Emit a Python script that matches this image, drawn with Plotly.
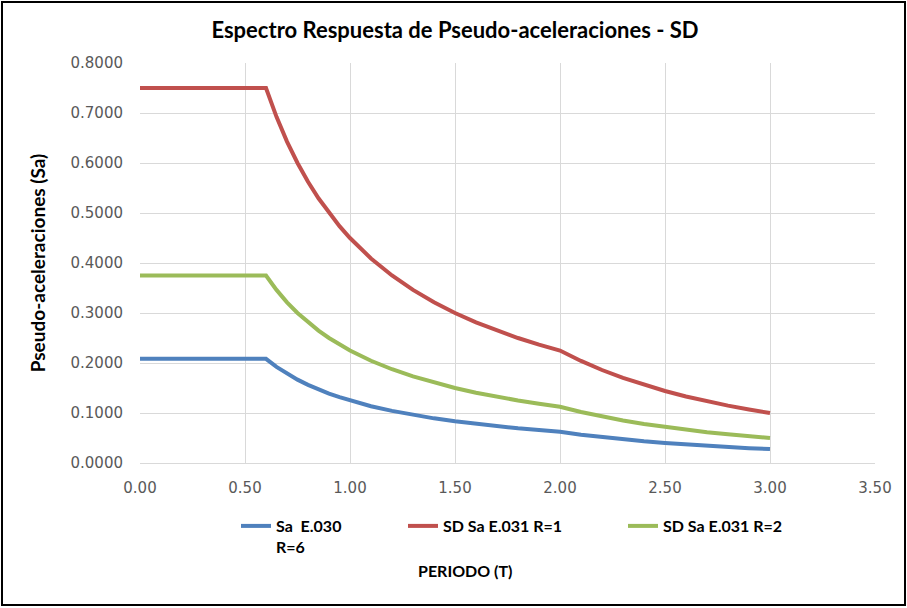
import plotly.graph_objects as go

periodo = [0.0, 0.1, 0.2, 0.3, 0.4, 0.5, 0.6, 0.65, 0.7, 0.75, 0.8, 0.85, 0.9, 0.95,
           1.0, 1.1, 1.2, 1.3, 1.4, 1.5, 1.6, 1.7, 1.8, 1.9, 2.0,
           2.1, 2.2, 2.3, 2.4, 2.5, 2.6, 2.7, 2.8, 2.9, 3.0]

sa_e030_r6 = [0.2083, 0.2083, 0.2083, 0.2083, 0.2083, 0.2083, 0.2083, 0.1923, 0.1786, 0.1667,
              0.1563, 0.1471, 0.1389, 0.1316, 0.1250, 0.1136, 0.1042, 0.0962, 0.0893, 0.0833,
              0.0781, 0.0735, 0.0694, 0.0658, 0.0625, 0.0567, 0.0517, 0.0473, 0.0434, 0.0400,
              0.0370, 0.0343, 0.0319, 0.0297, 0.0278]

sd_e031_r1 = [0.7500, 0.7500, 0.7500, 0.7500, 0.7500, 0.7500, 0.7500, 0.6923, 0.6429, 0.6000,
              0.5625, 0.5294, 0.5000, 0.4737, 0.4500, 0.4091, 0.3750, 0.3462, 0.3214, 0.3000,
              0.2813, 0.2647, 0.2500, 0.2368, 0.2250, 0.2041, 0.1860, 0.1701, 0.1563, 0.1440,
              0.1331, 0.1235, 0.1148, 0.1070, 0.1000]

sd_e031_r2 = [0.3750, 0.3750, 0.3750, 0.3750, 0.3750, 0.3750, 0.3750, 0.3462, 0.3214, 0.3000,
              0.2813, 0.2647, 0.2500, 0.2368, 0.2250, 0.2045, 0.1875, 0.1731, 0.1607, 0.1500,
              0.1406, 0.1324, 0.1250, 0.1184, 0.1125, 0.1020, 0.0930, 0.0851, 0.0781, 0.0720,
              0.0666, 0.0617, 0.0574, 0.0535, 0.0500]

series_names = ["<b>Sa  E.030<br>R=6</b>", "<b>SD Sa E.031 R=1</b>", "<b>SD Sa E.031 R=2</b>"]
series_colors = ["#4F81BD", "#C0504D", "#9BBB59"]

x_ticks = [0.0, 0.5, 1.0, 1.5, 2.0, 2.5, 3.0, 3.5]
y_ticks = [0.0, 0.1, 0.2, 0.3, 0.4, 0.5, 0.6, 0.7, 0.8]

BOLD = "Lato, 'Open Sans', sans-serif"
TICK = "'DejaVu Sans', sans-serif"

fig = go.Figure()
for i, ys in enumerate([sa_e030_r6, sd_e031_r1, sd_e031_r2]):
    fig.add_trace(go.Scatter(
        x=periodo, y=ys, mode="lines", name=series_names[i],
        line=dict(color=series_colors[i], width=4),
        legend=["legend", "legend2", "legend3"][i],
    ))

# plot area: left 140, right 875, top 63, bottom 463 (px)
L, R, T, B = 140, 875, 63, 463
W, H = 907, 608
pw, ph = R - L, B - T

def px_x(px):
    return (px - L) / pw

def px_y(py):
    return (B - py) / ph

leg_common = dict(orientation="h", bgcolor="rgba(0,0,0,0)", itemwidth=30,
                  font=dict(family=BOLD, size=16, color="#000000"),
                  xanchor="left", yanchor="top", valign="top", tracegroupgap=0)

fig.update_layout(
    width=W, height=H,
    margin=dict(l=L, r=W - R, t=T, b=H - B, pad=0),
    paper_bgcolor="white", plot_bgcolor="white",
    title=dict(text="<b>Espectro Respuesta de Pseudo-aceleraciones - SD</b>",
               x=455 / W, xanchor="center", y=1 - 30 / H, yanchor="middle",
               font=dict(family=BOLD, size=22, color="#000000")),
    xaxis=dict(range=[0, 3.5], tickvals=x_ticks, tickformat=".2f",
               showgrid=True, gridcolor="#D9D9D9", gridwidth=1,
               showline=True, linecolor="#D9D9D9", linewidth=1, zeroline=False,
               tickfont=dict(family=TICK, size=15, color="#595959"),
               ticklabelstandoff=11),
    yaxis=dict(range=[0, 0.8], tickvals=y_ticks, tickformat=".4f",
               showgrid=True, gridcolor="#D9D9D9", gridwidth=1,
               showline=False, zeroline=False,
               tickfont=dict(family=TICK, size=15, color="#595959"),
               ticklabelstandoff=16,
               title=dict(text="<b>Pseudo-aceleraciones (Sa)</b>",
                          font=dict(family=BOLD, size=19, color="#000000"), standoff=19)),
    legend=dict(x=px_x(236), y=px_y(509), **leg_common),
    legend2=dict(x=px_x(403), y=px_y(509), **leg_common),
    legend3=dict(x=px_x(623), y=px_y(509), **leg_common),
    showlegend=True,
)

fig.add_annotation(text="<b>PERIODO (T)</b>", xref="paper", yref="paper",
                   x=px_x(465), y=px_y(570), xanchor="center", yanchor="middle",
                   showarrow=False, font=dict(family=BOLD, size=16, color="#000000"))

# outer chart frame
fig.add_shape(type="rect", xref="paper", yref="paper",
              x0=px_x(2), x1=px_x(905), y0=px_y(605), y1=px_y(2),
              line=dict(color="#000000", width=2), fillcolor="rgba(0,0,0,0)", layer="below")

fig.write_html("out.html")
